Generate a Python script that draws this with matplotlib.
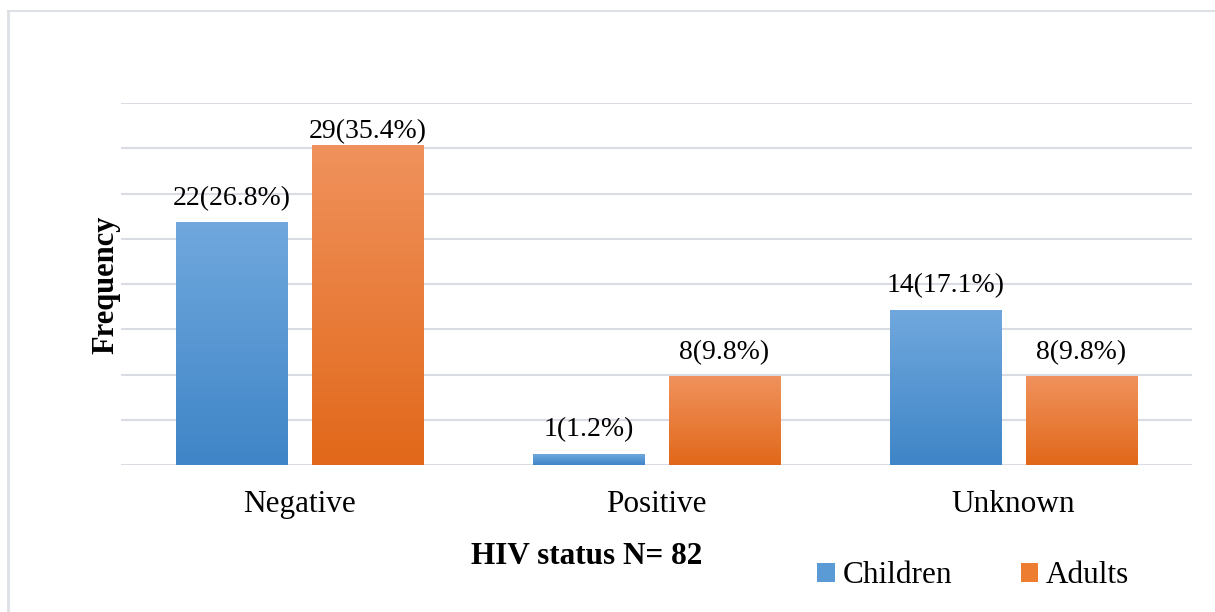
import numpy as np
import matplotlib
matplotlib.use('Agg')
import matplotlib.pyplot as plt
from matplotlib.colors import LinearSegmentedColormap
from matplotlib.patches import Patch
from matplotlib.lines import Line2D

plt.rcParams['font.family'] = ['Liberation Serif', 'DejaVu Serif']

# data (bars are drawn at the percentage, labelled with count and %)
categories = ['Negative', 'Positive', 'Unknown']
children_counts = [22, 1, 14]
children_pct = [26.8, 1.2, 17.1]
adults_counts = [29, 8, 8]
adults_pct = [35.4, 9.8, 9.8]
series_names = ['Children', 'Adults']

blue_grad = LinearSegmentedColormap.from_list('blue', ['#3f85c7', '#70a8dd'])
orange_grad = LinearSegmentedColormap.from_list('orange', ['#e1681a', '#f0925d'])

fig = plt.figure(figsize=(12.15, 6.12), dpi=100)
ax = fig.add_axes([0.0996, 0.240, 0.8815, 0.5917])

x = np.arange(len(categories))
width = 0.311
offset = 0.19
label_cap = 35.5  # labels are kept inside the chart area, like Excel does


def gradient_bars(xpos, heights, cmap, labels):
    bars = ax.bar(xpos, heights, width, facecolor='none', edgecolor='none', zorder=3)
    grad = np.linspace(0, 1, 256).reshape(-1, 1)
    for bar, lab in zip(bars, labels):
        x0, y0 = bar.get_x(), bar.get_y()
        w, h = bar.get_width(), bar.get_height()
        im = ax.imshow(grad, cmap=cmap, aspect='auto', origin='lower',
                       extent=[x0, x0 + w, y0, y0 + h], zorder=3)
        im.set_clip_path(bar)
        ax.text(x0 + w / 2, min(y0 + h + 1.3, label_cap), lab,
                ha='center', va='bottom', fontsize=20, zorder=4)
    return bars


child_labels = [f'{n}({p}%)' for n, p in zip(children_counts, children_pct)]
adult_labels = [f'{n}({p}%)' for n, p in zip(adults_counts, adults_pct)]
gradient_bars(x - offset, children_pct, blue_grad, child_labels)
gradient_bars(x + offset, adults_pct, orange_grad, adult_labels)

ax.set_xlim(-0.5, 2.5)
ax.set_ylim(0, 40)
ax.set_yticks(np.arange(0, 41, 5))
ax.set_yticklabels([])
ax.tick_params(axis='y', length=0)
ax.tick_params(axis='x', length=0, pad=18, labelsize=22.5)
ax.set_xticks(x)
ax.set_xticklabels(categories)
ax.grid(axis='y', color='#d9dde3', linewidth=1.5, zorder=0)
ax.set_axisbelow(True)
for s in ax.spines.values():
    s.set_visible(False)

fig.text(0.087, 0.534, 'Frequency', rotation=90, ha='center', va='center',
         fontsize=22, fontweight='bold')
fig.text(0.483, 0.090, 'HIV status N= 82', ha='center', va='center',
         fontsize=22.5, fontweight='bold')

handles = [Patch(facecolor='#5b9bd5', edgecolor='none'),
           Patch(facecolor='#ed7d31', edgecolor='none')]
fig.legend(handles, series_names, loc='center', bbox_to_anchor=(0.801, 0.059), ncol=2,
           frameon=False, fontsize=22.5, handlelength=0.55, handleheight=0.55,
           handletextpad=0.25, columnspacing=2.2)

# light frame around the chart area (left and top edges visible in the reference)
fig.add_artist(Line2D([0.0066, 0.0066], [0.0, 0.982], color='#dde1e6', linewidth=2,
                      transform=fig.transFigure))
fig.add_artist(Line2D([0.0066, 1.0], [0.982, 0.982], color='#dde1e6', linewidth=1.5,
                      transform=fig.transFigure))

fig.savefig('out.png', dpi=100)
